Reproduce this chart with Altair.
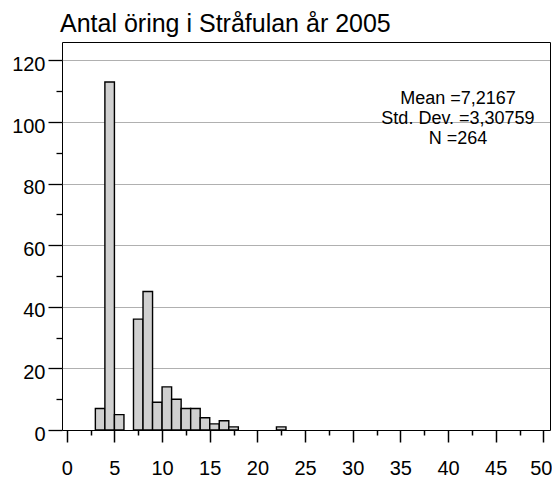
import altair as alt
import pandas as pd

# Histogram bins (lower edge, width 1) and counts
bin_start = [3, 4, 5, 7, 8, 9, 10, 11, 12, 13, 14, 15, 16, 17, 22]
counts = [7, 113, 5, 36, 45, 9, 14, 10, 7, 7, 4, 2, 3, 1, 1]
bin_width = 1

x_ticks = [0, 2.5, 5, 7.5, 10, 12.5, 15, 17.5, 20, 22.5, 25, 27.5, 30, 32.5,
           35, 37.5, 40, 42.5, 45, 47.5, 50]
y_ticks = [0, 10, 20, 30, 40, 50, 60, 70, 80, 90, 100, 110, 120]

stats_lines = ["Mean =7,2167", "Std. Dev. =3,30759", "N =264"]
title_text = "Antal öring i Stråfulan år 2005"

FONT = "Liberation Sans"

df = pd.DataFrame({
    "start": bin_start,
    "end": [s + bin_width for s in bin_start],
    "count": counts,
    "base": [0] * len(bin_start),
})

x_axis = alt.Axis(
    values=x_ticks,
    title=None,
    grid=False,
    domain=False,
    labelExpr="datum.value % 5 === 0 ? datum.label : ''",
    labelOverlap=False,
    labelFlush=False,
    labelFont=FONT,
    labelFontSize=20,
    labelColor="black",
    labelPadding=16,
    labelOffset={"condition": {"test": "datum.value === 50", "value": -2.5}, "value": 0},
    tickColor="black",
    tickWidth=1.5,
    tickSize={"condition": {"test": "datum.value % 5 === 0", "value": 12}, "value": 5},
)

y_axis = alt.Axis(
    values=y_ticks,
    title=None,
    grid=True,
    gridColor="#606060",
    gridDash=[1, 1],
    gridWidth=1,
    gridOpacity={"condition": {"test": "datum.value % 20 === 0 && datum.value > 0", "value": 1}, "value": 0},
    domain=False,
    labelExpr="datum.value % 20 === 0 ? datum.label : ''",
    labelOverlap=False,
    labelFlush=False,
    labelFont=FONT,
    labelFontSize=20,
    labelColor="black",
    labelPadding=3,
    labelOffset=4,
    tickColor="black",
    tickWidth=1.3,
    tickSize={"condition": {"test": "datum.value % 20 === 0", "value": 14}, "value": 6},
)

bars = alt.Chart(df).mark_rect(
    fill="#d0d0d0", stroke="black", strokeWidth=1.4
).encode(
    x=alt.X("start:Q", scale=alt.Scale(domain=[-0.5, 50.7], nice=False, zero=False), axis=x_axis),
    x2="end:Q",
    y=alt.Y("count:Q", scale=alt.Scale(domain=[0, 126], nice=False), axis=y_axis),
    y2="base:Q",
)

stats = alt.Chart(pd.DataFrame({"t": ["\n".join(stats_lines)]})).mark_text(
    align="center", baseline="alphabetic", lineBreak="\n", lineHeight=20,
    font=FONT, fontSize=18, color="black",
).encode(
    text="t:N",
    x=alt.value(396),
    y=alt.value(62),
)

title = alt.Chart(pd.DataFrame({"t": [title_text]})).mark_text(
    align="left", baseline="alphabetic", font=FONT, fontSize=25, color="black",
).encode(
    text="t:N",
    x=alt.value(-2),
    y=alt.value(-10),
)

chart = alt.layer(bars, stats, title).properties(
    width=488,
    height=388,
    autosize=alt.AutoSizeParams(type="none"),
    padding={"left": 54, "top": 34, "right": 2, "bottom": 49},
).configure_view(stroke="black", strokeWidth=1)

chart.save("out.html", embed_options={"renderer": "svg", "actions": False})
